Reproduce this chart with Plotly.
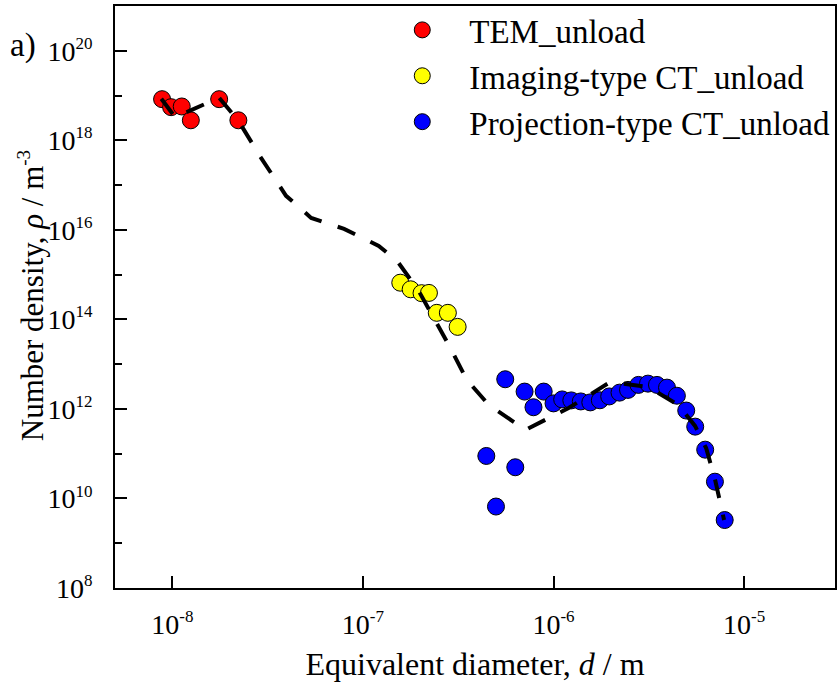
import plotly.graph_objects as go

# ---- data ----
tem_d = [8.83e-9, 9.85e-9, 1.12e-8, 1.25e-8, 1.76e-8, 2.22e-8]
tem_rho = [8.3e18, 5.5e18, 5.7e18, 2.8e18, 8.3e18, 2.8e18]

img_d = [1.57e-7, 1.78e-7, 2.03e-7, 2.22e-7, 2.44e-7, 2.79e-7, 3.14e-7]
img_rho = [6.6e14, 4.7e14, 3.85e14, 3.9e14, 1.4e14, 1.4e14, 6.8e13]

proj_d = [4.44e-7, 4.99e-7, 5.58e-7, 6.30e-7, 7.05e-7, 7.85e-7, 8.88e-7, 1.0e-6,
          1.11e-6, 1.24e-6, 1.39e-6, 1.56e-6, 1.75e-6, 1.96e-6, 2.22e-6, 2.46e-6,
          2.79e-6, 3.13e-6, 3.49e-6, 3.94e-6, 4.44e-6, 4.97e-6, 5.54e-6, 6.25e-6,
          7.03e-6, 7.91e-6]
proj_rho = [8.9e10, 6.6e9, 4.6e12, 4.98e10, 2.44e12, 1.09e12, 2.44e12, 1.33e12,
            1.63e12, 1.55e12, 1.47e12, 1.40e12, 1.56e12, 1.90e12, 2.31e12, 2.66e12,
            3.44e12, 3.67e12, 3.44e12, 2.99e12, 1.97e12, 9.2e11, 4.02e11, 1.23e11,
            2.37e10, 3.3e9]

fit_d = [8.75e-9, 1.04e-8, 1.23e-8, 1.76e-8, 2.22e-8, 2.92e-8, 3.95e-8, 5.35e-8,
         7.96e-8, 1.21e-7, 1.51e-7, 1.96e-7, 2.82e-7, 3.51e-7, 4.57e-7, 7.13e-7,
         1.20e-6, 1.99e-6, 3.14e-6, 4.51e-6, 5.53e-6, 6.32e-6, 7.05e-6, 7.85e-6]
fit_rho = [8.45e18, 3.18e18, 4.56e18, 8.91e18, 2.73e18, 4.06e17, 5.75e16, 1.85e16,
           1.05e16, 4.39e15, 2.03e15, 4.34e14, 2.69e13, 4.45e12, 1.23e12, 3.40e11,
           1.05e12, 4.01e12, 3.10e12, 1.23e12, 4.17e11, 1.34e11, 2.59e10, 3.31e9]

y_major = [1e8, 1e10, 1e12, 1e14, 1e16, 1e18, 1e20]
y_exp = ["8", "10", "12", "14", "16", "18", "20"]
y_minor = [1e9, 1e11, 1e13, 1e15, 1e17, 1e19]
x_major = [1e-8, 1e-7, 1e-6, 1e-5]
x_exp = ["-8", "-7", "-6", "-5"]

FONT = "Liberation Serif"
FS = 33
TFS = 28

def pow_label(e):
    return "10<sup><span style='font-size:17px'>%s</span></sup>" % e

fig = go.Figure()

def scatter(x, y, color, name):
    return go.Scatter(x=x, y=y, mode="markers", name=name,
                      marker=dict(size=17, color=color,
                                  line=dict(color="black", width=1)))

fig.add_trace(scatter(tem_d, tem_rho, "#FF0000", "TEM_unload"))
fig.add_trace(scatter(img_d, img_rho, "#FFFF00", "Imaging-type CT_unload"))
fig.add_trace(scatter(proj_d, proj_rho, "#0000FF", "Projection-type CT_unload"))
fig.add_trace(go.Scatter(x=fit_d, y=fit_rho, mode="lines", showlegend=False,
                         line=dict(color="black", width=4, dash="19px,17px")))

fig.update_layout(
    width=838, height=690,
    margin=dict(l=115, r=1, t=6, b=102),
    paper_bgcolor="white", plot_bgcolor="white",
    font=dict(family=FONT, size=FS, color="black"),
    showlegend=True,
    legend=dict(x=(376 - 115) / 722, y=1.007, xanchor="left", yanchor="top",
                bgcolor="rgba(0,0,0,0)", borderwidth=0,
                font=dict(family=FONT, size=FS), itemwidth=84,
                tracegroupgap=0),
    xaxis=dict(type="log", range=[-8.301, -4.523],
               tickmode="array", tickvals=x_major, ticktext=[pow_label(e) for e in x_exp],
               tickfont=dict(family=FONT, size=TFS),
               ticks="inside", ticklen=12, tickwidth=2, tickcolor="black",
               showline=True, linewidth=2, linecolor="black", mirror=True,
               showgrid=False, zeroline=False, ticklabelstandoff=10,
               title=dict(text="Equivalent diameter, <i>d</i> / m",
                          font=dict(family=FONT, size=32), standoff=14)),
    yaxis=dict(type="log", range=[8, 21],
               tickmode="array", tickvals=y_major, ticktext=[pow_label(e) for e in y_exp],
               tickfont=dict(family=FONT, size=TFS),
               ticks="inside", ticklen=12, tickwidth=2, tickcolor="black",
               showline=True, linewidth=2, linecolor="black", mirror=True,
               showgrid=False, zeroline=False, ticklabelstandoff=15,
               minor=dict(tickmode="array", tickvals=y_minor, ticks="inside",
                          ticklen=7, tickwidth=2, tickcolor="black", showgrid=False)),
    annotations=[
        dict(text="Number density, <i>ρ</i> / m<sup><span style='font-size:19px'>-3</span></sup>",
             textangle=-90,
             xref="paper", yref="paper", x=-84 / 722, y=(588 - 296) / 582,
             xanchor="center", yanchor="middle", showarrow=False,
             font=dict(family=FONT, size=31)),
        dict(text="a)", xref="paper", yref="paper", x=-107 / 722, y=(588 - 46) / 582,
             xanchor="left", yanchor="middle", showarrow=False,
             font=dict(family=FONT, size=FS)),
    ],
)

fig.write_html("out.html")
